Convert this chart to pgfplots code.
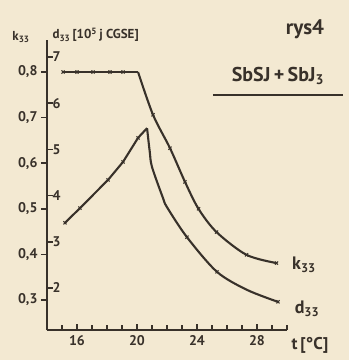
\documentclass[border=0pt]{standalone}
\usepackage{pgfplots}
\pgfplotsset{compat=1.18}
\usepackage{fontspec}
\setmainfont{PT Sans}
\definecolor{paper}{HTML}{F3E9D2}
\definecolor{ink}{HTML}{38312A}
\pgfplotsset{base/.style={
  at={(O)}, anchor=south west, scale only axis,
  width=240pt, height=290pt, xmin=14, xmax=30,
  axis line style={ink, line width=2.2pt, -},
  tick style={ink, line width=1.6pt},
  major tick length=6pt, minor tick length=5pt,
  ticklabel style={font=\bfseries\fontsize{14}{14}\selectfont, text=ink},
  /pgf/number format/assume math mode=true,
  clip=false}}
\begin{document}
\begin{tikzpicture}[x=1pt,y=1pt]
\fill[paper] (0,0) rectangle (349,360);
\coordinate (O) at (47,30);
% axis A: x axis and k33 curve
\begin{axis}[base, ymin=0.2342, ymax=0.8702,
  axis x line*=bottom, hide y axis,
  xtick={16,20,24,28}, minor xtick={15,...,30},
  tick align=inside, xticklabel style={yshift=-2pt}]
\addplot[ink, line width=2.1pt] coordinates {(15.07,0.80) (16,0.80) (17.07,0.80) (18.2,0.80) (19.07,0.80) (20.07,0.80)};
\addplot[ink, line width=2.1pt, smooth] coordinates {(20.07,0.80) (21.07,0.706) (22.2,0.633) (23.2,0.559) (24.1,0.500) (25.3,0.449) (27.3,0.399) (29.3,0.381)};
\addplot[ink, only marks, mark=x, mark size=2.2pt, mark options={line width=1.1pt}] coordinates {(15.07,0.80) (16,0.80) (17.07,0.80) (18.2,0.80) (19.07,0.80) (21.07,0.706) (22.2,0.633) (23.2,0.559) (24.1,0.500) (25.3,0.449) (27.3,0.399) (29.3,0.381)};
\end{axis}
% axis B: k33 ticks
\begin{axis}[base, ymin=0.2342, ymax=0.8702,
  hide x axis, axis y line*=left, tick align=outside,
  ytick={0.3,0.4,0.5,0.6,0.7,0.8},
  yticklabel style={/pgf/number format/.cd, use comma, fixed, fixed zerofill, precision=1}]
\end{axis}
% axis C: d33 ticks and curve
\begin{axis}[base, ymin=1.0909, ymax=7.368,
  hide x axis, axis y line*=left, tick align=inside,
  ytick={2,3,4,5,6,7},
  yticklabel style={anchor=west, xshift=2pt}]
\addplot[ink, line width=2.1pt] coordinates {(15.2,3.41) (16.2,3.73) (18.07,4.34) (19.07,4.73) (20.07,5.25) (20.67,5.46)};
\addplot[ink, line width=2.1pt, smooth] coordinates {(20.67,5.46) (20.85,4.95) (21.0,4.62) (21.73,3.95) (22.0,3.75) (23.33,3.10) (25.33,2.35) (27.33,1.96) (29.4,1.70)};
\addplot[ink, only marks, mark=x, mark size=2.2pt, mark options={line width=1.1pt}] coordinates {(15.2,3.41) (16.2,3.73) (18.07,4.34) (19.07,4.73) (20.07,5.25) (23.33,3.10) (25.33,2.35) (29.4,1.70)};
\end{axis}
\begin{scope}[ink, font=\bfseries]
\node[font=\bfseries\fontsize{13}{13}\selectfont] at (21,323) {k\textsubscript{33}};
\node[anchor=west, font=\bfseries\fontsize{13}{13}\selectfont] at (49,325) {d\textsubscript{33}\,[10\textsuperscript{5}\,j CGSE]};
\node[font=\bfseries\fontsize{21}{21}\selectfont] at (305,331) {rys4};
\node[font=\bfseries\fontsize{20}{20}\selectfont] at (278,284) {SbSJ\,+\,SbJ\textsubscript{3}};
\draw[line width=2pt] (213,265) -- (343,265);
\node[font=\bfseries\fontsize{18}{18}\selectfont] at (304,95) {k\textsubscript{33}};
\node[font=\bfseries\fontsize{18}{18}\selectfont] at (307,51) {d\textsubscript{33}};
\node[font=\bfseries\fontsize{17}{17}\selectfont] at (310,15) {t\,[°C]};
\end{scope}
\pgfresetboundingbox
\path[use as bounding box] (0,0) rectangle (349,360);
\end{tikzpicture}
\end{document}
